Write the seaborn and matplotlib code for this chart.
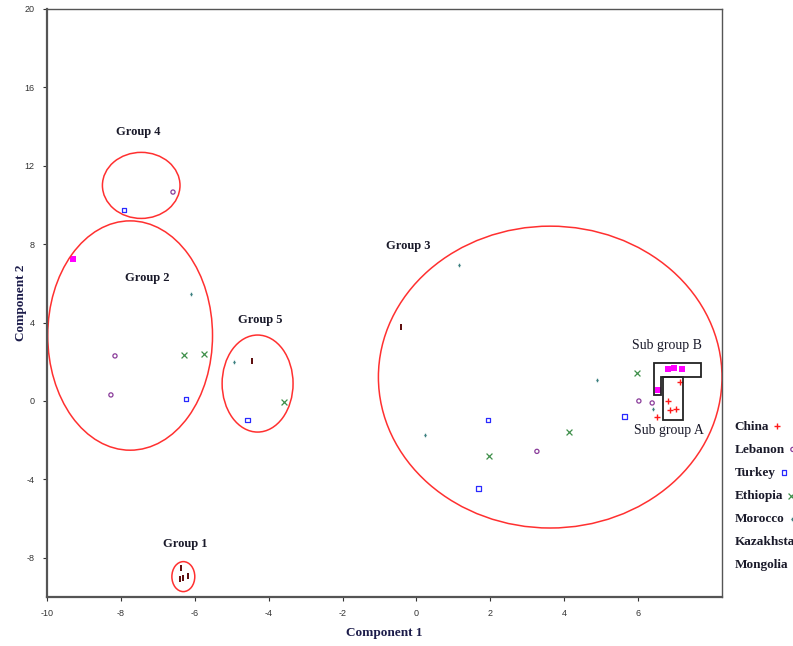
import matplotlib
matplotlib.use("Agg")
import pandas as pd
import seaborn as sns
import matplotlib.pyplot as plt
from matplotlib.patches import Ellipse, Polygon

# ============================================================
# DATA
# ============================================================

countries = ['China', 'Lebanon', 'Turkey', 'Ethiopia', 'Morocco', 'Kazakhstan', 'Mongolia']

china_x = [6.52, 6.81, 6.85, 7.03, 7.12]
china_y = [-0.83, -0.02, -0.46, -0.39, 0.95]

lebanon_x = [-6.59, -8.16, -8.27, 3.26, 6.02, 6.38]
lebanon_y = [10.66, 2.30, 0.31, -2.57, 0.00, -0.10]

turkey_x = [-7.92, -6.24, -4.57, 1.94, 1.68, 5.63]
turkey_y = [9.74, 0.10, -0.97, -0.97, -4.46, -0.80]

ethiopia_x = [-6.30, -5.76, -3.59, 4.12, 1.96, 5.96]
ethiopia_y = [2.35, 2.40, -0.05, -1.57, -2.81, 1.44]

morocco_x = [-6.11, -4.95, 1.14, 0.22, 4.89, 6.41]
morocco_y = [5.45, 1.99, 6.94, -1.72, 1.06, -0.41]

kazakhstan_x = [-9.30, 6.55, 6.81, 6.97, 7.20]
kazakhstan_y = [7.24, 0.58, 1.62, 1.66, 1.62]

mongolia_x = [-0.43, -4.46, -6.38, -6.41, -6.32, -6.19]
mongolia_y = [3.77, 2.04, -8.52, -9.08, -9.03, -8.93]

# group ellipses: label, centre x, centre y, width, height, label x, label y
group_names = ['Group 1', 'Group 2', 'Group 3', 'Group 4', 'Group 5']
group_cx = [-6.31, -7.75, 3.62, -7.45, -4.30]
group_cy = [-8.96, 3.34, 1.22, 11.00, 0.89]
group_w = [0.62, 4.46, 9.30, 2.10, 1.92]
group_h = [1.53, 11.70, 15.40, 3.37, 4.95]
group_lx = [-6.26, -7.28, -0.22, -7.53, -4.24]
group_ly = [-7.29, 6.25, 7.90, 13.75, 4.15]

# sub group outlines
sub_b_x = [6.44, 7.70, 7.70, 6.62, 6.62, 6.44]
sub_b_y = [1.95, 1.95, 1.21, 1.21, 0.31, 0.31]
sub_a_x = [6.68, 7.21, 7.21, 6.68]
sub_a_y = [1.21, 1.21, -0.97, -0.97]

rows = []
for name, xs, ys in [('China', china_x, china_y), ('Lebanon', lebanon_x, lebanon_y),
                     ('Turkey', turkey_x, turkey_y), ('Ethiopia', ethiopia_x, ethiopia_y),
                     ('Morocco', morocco_x, morocco_y), ('Kazakhstan', kazakhstan_x, kazakhstan_y),
                     ('Mongolia', mongolia_x, mongolia_y)]:
    for x, y in zip(xs, ys):
        rows.append({'country': name, 'c1': x, 'c2': y})
df = pd.DataFrame(rows)

# ============================================================
# STYLE
# ============================================================

sns.set_theme(style="white")
plt.rcParams['font.family'] = ['Liberation Serif', 'DejaVu Serif']
plt.rcParams['axes.unicode_minus'] = False

styles = {
    'China':      dict(marker='+', color='#ff1a1a', s=22, linewidths=1.0),
    'Lebanon':    dict(marker='o', facecolors='none', edgecolor='#8a3c9a', s=9, linewidths=0.9),
    'Turkey':     dict(marker='s', facecolors='none', edgecolor='#2a2aff', s=10, linewidths=0.9),
    'Ethiopia':   dict(marker='x', color='#3f8f4a', s=18, linewidths=0.9),
    'Morocco':    dict(marker='d', color='#3b8080', s=8, linewidths=0.4),
    'Kazakhstan': dict(marker='s', color='#ff00ff', s=14, linewidths=0),
    'Mongolia':   dict(marker='|', color='#5a0a0a', s=14, linewidths=1.4),
}

fig = plt.figure(figsize=(7.93, 6.46), dpi=100)
ax = fig.add_axes([47 / 793, 49 / 646, 675 / 793, 588 / 646])

for name in countries:
    sub = df[df['country'] == name]
    sns.scatterplot(data=sub, x='c1', y='c2', ax=ax, label=name, **styles[name])

# ellipses
for i in range(len(group_names)):
    ax.add_patch(Ellipse((group_cx[i], group_cy[i]), group_w[i], group_h[i],
                         fill=False, edgecolor='#ff3030', lw=1.1))
    ax.text(group_lx[i], group_ly[i], group_names[i], ha='center', va='center',
            fontsize=9, fontweight='bold', color='#1a1a2a')

# sub groups
ax.add_patch(Polygon(list(zip(sub_b_x, sub_b_y)), closed=True, fill=False,
                     edgecolor='#222222', lw=1.3))
ax.add_patch(Polygon(list(zip(sub_a_x, sub_a_y)), closed=True, fill=False,
                     edgecolor='#222222', lw=1.3))
ax.text(6.78, 2.85, 'Sub group B', ha='center', va='center', fontsize=10, color='#1a1a2a')
ax.text(6.83, -1.48, 'Sub group A', ha='center', va='center', fontsize=10, color='#1a1a2a')

# axes
ax.set_xlim(-10, 8.27)
ax.set_ylim(-10, 20)
ax.set_xticks([-10, -8, -6, -4, -2, 0, 2, 4, 6])
ax.set_yticks([-8, -4, 0, 4, 8, 12, 16, 20])
ax.tick_params(axis='both', which='both', direction='out', length=3, width=0.8,
               labelsize=6.5, colors='#333333', left=True, bottom=True, pad=6)
for lbl in ax.get_xticklabels() + ax.get_yticklabels():
    lbl.set_family('Liberation Sans')

for side in ['left', 'bottom']:
    ax.spines[side].set_color('#555555')
    ax.spines[side].set_linewidth(1.6)
for side in ['top', 'right']:
    ax.spines[side].set_color('#555555')
    ax.spines[side].set_linewidth(1.0)

ax.set_xlabel('Component 1', fontsize=9.5, fontweight='bold', color='#1c1c4a', labelpad=6)
ax.set_ylabel('Component 2', fontsize=9.5, fontweight='bold', color='#1c1c4a', labelpad=-2)

leg = ax.legend(loc='upper left', bbox_to_anchor=(1.019, 0.30), frameon=False,
                markerfirst=False, handletextpad=0.1, handlelength=1.0,
                labelspacing=0.82, borderpad=0, borderaxespad=0,
                prop={'family': 'Liberation Serif', 'weight': 'bold', 'size': 9.5})
for col in leg._legend_handle_box.get_children():
    col.align = 'left'
for t in leg.get_texts():
    t.set_color('#1a1a2a')

fig.savefig('out.png', dpi=100)
